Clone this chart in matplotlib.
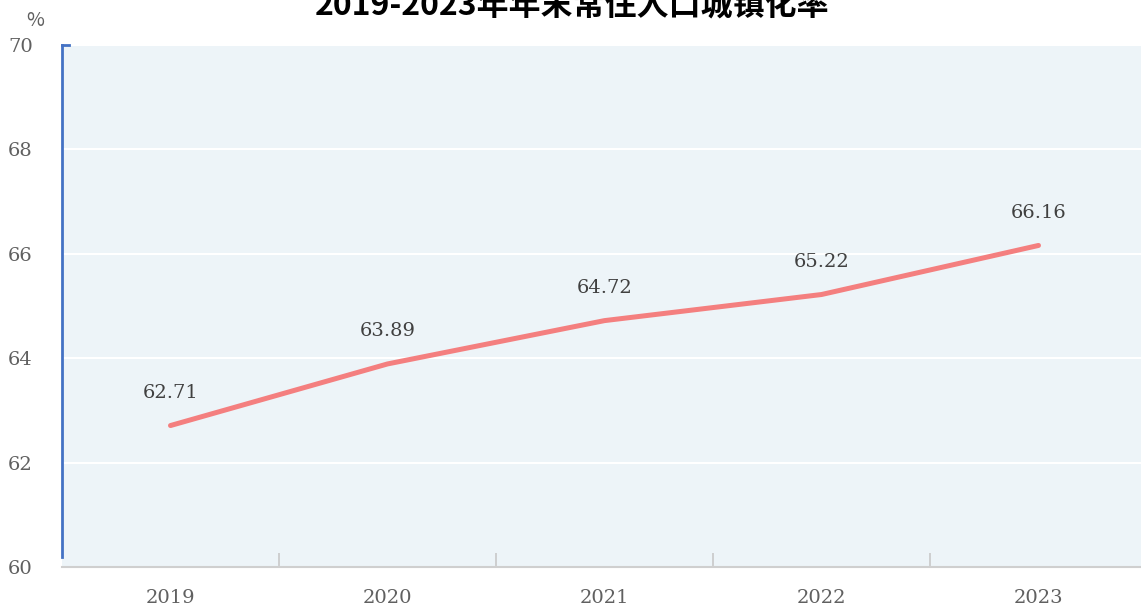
import matplotlib.pyplot as plt

years = ['2019', '2020', '2021', '2022', '2023']
rate = [62.71, 63.89, 64.72, 65.22, 66.16]
yticks = [60, 62, 64, 66, 68, 70]

plt.rcParams['font.family'] = ['Noto Sans CJK SC', 'DejaVu Sans']

fig = plt.figure(figsize=(11.41, 6.06), dpi=100)
ax = fig.add_axes([62/1141, 39/606, 1085/1141, 522/606])
ax.set_facecolor('#edf4f8')

x = list(range(len(years)))
ax.plot(x, rate, color='#f47f7f', lw=3.6, solid_capstyle='round', zorder=3)
for xi, v in zip(x, rate):
    ax.annotate(f'{v:.2f}', (xi, v), xytext=(0, 17), textcoords='offset points',
                ha='center', va='bottom', fontsize=14, color='#404040',
                family='DejaVu Serif')

ax.set_xlim(-0.5, 4.5)
ax.set_ylim(60, 70)
ax.set_yticks(yticks)
ax.set_yticklabels([str(t) for t in yticks], family='DejaVu Serif',
                   fontsize=14, color='#606060')
ax.tick_params(axis='y', length=0, pad=21)
ax.grid(axis='y', color='white', lw=1.5)
ax.set_axisbelow(True)

ax.set_xticks([i - 0.5 for i in range(1, 5)], minor=False)
ax.set_xticklabels([])
ax.tick_params(axis='x', direction='in', length=10, color='#c8c8c8', width=1.2)
ax.set_xticks(x, minor=True)
ax.set_xticklabels(years, minor=True, family='DejaVu Serif', fontsize=14,
                   color='#606060')
ax.tick_params(axis='x', which='minor', length=0, pad=16)

for s in ['top', 'right']:
    ax.spines[s].set_visible(False)
ax.spines['bottom'].set_color('#cfcfcf')
ax.spines['bottom'].set_linewidth(1.5)
ax.spines['left'].set_color('#4472c4')
ax.spines['left'].set_linewidth(2)
ax.spines['left'].set_bounds(60.2, 70)
ax.plot([-0.5, -0.47], [70, 70], color='#4472c4', lw=2, clip_on=False)

fig.text(35/1141, 1 - 20/606, '%', ha='center', va='center', fontsize=14,
         color='#606060')
fig.text(572/1141, 1 - 7/606, '2019-2023年年末常住人口城镇化率', ha='center',
         va='center', fontsize=23, fontweight='bold', color='black')

fig.savefig('out.png', dpi=100)
